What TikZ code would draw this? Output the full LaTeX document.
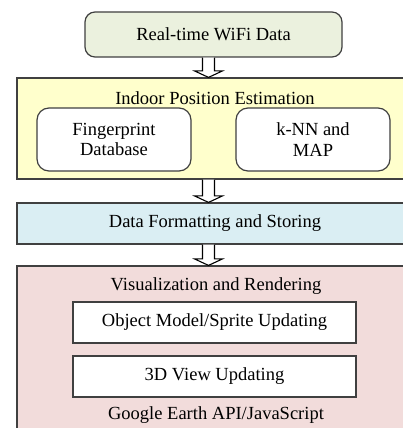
\documentclass[tikz,border=0pt]{standalone}
\usepackage{fontspec}
\setmainfont{Liberation Serif}
\usetikzlibrary{calc}
\definecolor{edge}{HTML}{404040}
\definecolor{cgreen}{HTML}{EBF1DE}
\definecolor{cyellow}{HTML}{FFFFCC}
\definecolor{cblue}{HTML}{DAEEF3}
\definecolor{cpink}{HTML}{F2DCDB}
\tikzset{
  box/.style={draw=edge, line width=1.2pt, inner sep=0pt, align=center,
    font=\fontsize{18.5}{20.5}\selectfont, text=black},
  rbox/.style={box, rounded corners=10pt},
  txt/.style={inner sep=0pt, font=\fontsize{18.5}{20.5}\selectfont, text=black},
  barrow/.style={draw=black, line width=1.1pt, fill=white, line join=miter}
}
\newcommand\blockarrow[2]{%
  \draw[barrow] let \p1=(#1.south), \p2=(#2.north) in
    (202.5pt,\y1) -- (202.5pt,\y2+6.5pt) -- (194.5pt,\y2+6.5pt) -- (208.5pt,\y2)
    -- (222.5pt,\y2+6.5pt) -- (214.5pt,\y2+6.5pt) -- (214.5pt,\y1);}
\begin{document}
\begin{tikzpicture}[x=1pt,y=-1pt]
\useasboundingbox (0,0) rectangle (403,428);
\fill[white] (0,0) rectangle (403,428);
% top
\node[rbox, fill=cgreen, minimum width=257pt, minimum height=45pt] (wifi) at (213.5,34.5) {Real-time WiFi Data};
% yellow
\node[box, fill=cyellow, minimum width=396pt, minimum height=101pt] (ips) at (215,128.5) {};
\node[txt] (ipst) at (215,98) {Indoor Position Estimation};
\node[rbox, rounded corners=12pt, fill=white, minimum width=154pt, minimum height=63pt] (fp) at (114,139.5) {Fingerprint\\Database};
\node[rbox, rounded corners=12pt, fill=white, minimum width=154pt, minimum height=63pt] (knn) at (313,139.5) {k-NN and\\MAP};
% blue
\node[box, fill=cblue, minimum width=396pt, minimum height=41pt] (dfs) at (215,223.5) {Data Formatting and Storing};
% pink
\node[box, fill=cpink, minimum width=396pt, minimum height=190pt] (vis) at (215,361) {};
\node[txt] (vist) at (216,286) {Visualization and Rendering};
\node[box, fill=white, minimum width=283pt, minimum height=41pt] (obj) at (214.5,322.5) {Object Model/Sprite Updating};
\node[box, fill=white, minimum width=283pt, minimum height=41pt] (v3d) at (214.5,376.5) {3D View Updating};
\node[txt] (ge) at (216,415) {Google Earth API/JavaScript};
% arrows
\blockarrow{wifi}{ips}
\blockarrow{ips}{dfs}
\blockarrow{dfs}{vis}
\end{tikzpicture}
\end{document}
